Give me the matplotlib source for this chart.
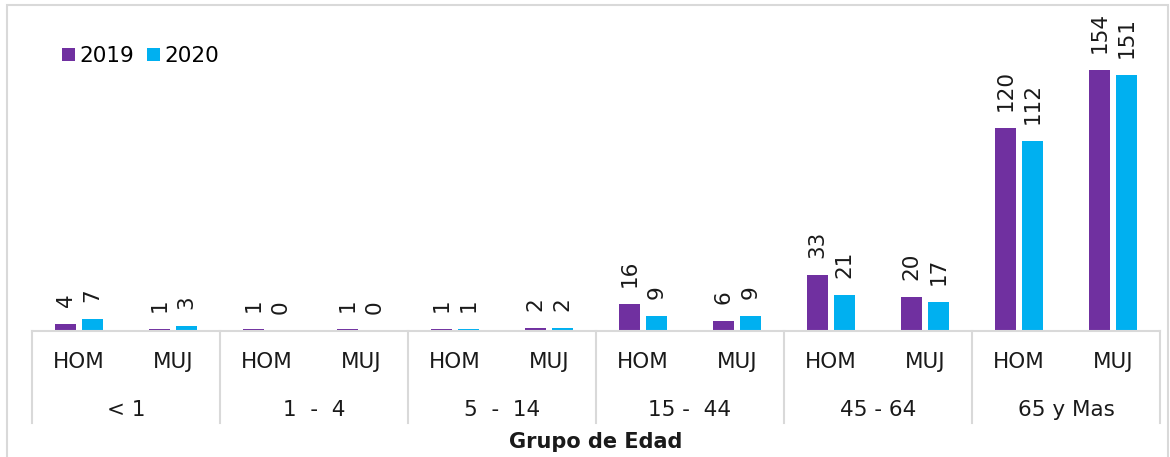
import matplotlib
matplotlib.use("Agg")
import matplotlib.pyplot as plt
from matplotlib.patches import Rectangle

groups = ["< 1", "1  -  4", "5  -  14", "15 -  44", "45 - 64", "65 y Mas"]
sexes = ["HOM", "MUJ"]
y2019 = [4, 1, 1, 1, 1, 2, 16, 6, 33, 20, 120, 154]
y2020 = [7, 3, 0, 0, 1, 2, 9, 9, 21, 17, 112, 151]

PURPLE = "#7030A0"
CYAN = "#00B0F0"
GRID = "#D9D9D9"
INK = "#1a1a1a"
FONT = "DejaVu Sans"

plt.rcParams["font.family"] = FONT

fig = plt.figure(figsize=(11.7, 4.57), dpi=100)
W, H = 1170, 457
# plot area in pixels: x 32..1160, baseline at 331, top at 20
ax = fig.add_axes([32 / W, 1 - 331 / H, 1128 / W, 311 / H])

n = len(y2019)
xs = list(range(n))
off = 0.1436
bw = 0.223
ax.bar([x - off for x in xs], y2019, width=bw, color=PURPLE, label="2019")
ax.bar([x + off for x in xs], y2020, width=bw, color=CYAN, label="2020")

pad = 10
for x, a, b in zip(xs, y2019, y2020):
    ax.text(x - off, a + pad, str(a), rotation=90, ha="center", va="bottom",
            fontsize=15.5, color=INK)
    ax.text(x + off, b + pad, str(b), rotation=90, ha="center", va="bottom",
            fontsize=15.5, color=INK)

ax.set_xlim(-0.5, n - 0.5)
ax.set_ylim(0, 311 / 1.695)
for s in ax.spines.values():
    s.set_visible(False)
ax.set_xticks([])
ax.set_yticks([])

# baseline and category separators below the axis
tr = ax.get_xaxis_transform()
px = 1 / 311  # one pixel in axes-height units
ax.plot([-0.5, n - 0.5], [0, 0], transform=tr, color=GRID, lw=1.5, clip_on=False)
for k in range(len(groups) + 1):
    ax.plot([k * 2 - 0.5] * 2, [0, -92 * px], transform=tr, color=GRID,
            lw=1.5, clip_on=False)

for i in range(n):
    ax.text(i, -31 * px, sexes[i % 2], transform=tr, ha="center", va="center",
            fontsize=15.5, color=INK)
for g, name in enumerate(groups):
    ax.text(g * 2 + 0.5, -79 * px, name, transform=tr, ha="center",
            va="center", fontsize=15.5, color=INK)
ax.text(0.5, -111 * px, "Grupo de Edad", transform=ax.transAxes,
        ha="center", va="center", fontsize=15, fontweight="bold",
        color=INK)

ax.legend(loc="upper left", bbox_to_anchor=(30 / 1128, 1 - 26 / 311),
          frameon=False, ncol=2, fontsize=15.5, handlelength=0.6,
          handleheight=0.6, handletextpad=0.2, columnspacing=0.6,
          borderaxespad=0, borderpad=0)

# outer frame
fig.patches.append(Rectangle((7 / W, -0.05), 1161 / W, 1 - 5 / H + 0.05,
                             transform=fig.transFigure, fill=False,
                             edgecolor=GRID, lw=1.5))

fig.savefig("out.png", dpi=100)
